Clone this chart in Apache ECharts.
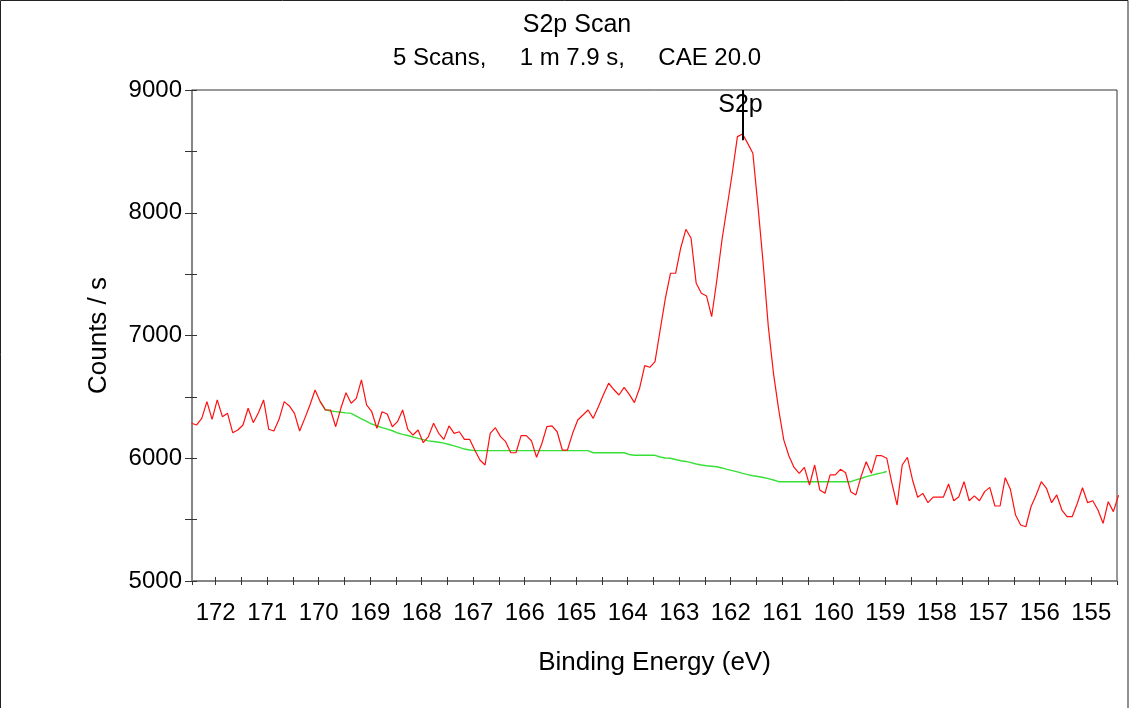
<!DOCTYPE html>
<html>
<head>
<meta charset="utf-8">
<title>S2p Scan</title>
<script src="https://cdn.jsdelivr.net/npm/echarts@6/dist/echarts.min.js"></script>
<style>
  html, body { margin: 0; padding: 0; background: #fff; }
  #chart { width: 1132px; height: 708px; }
</style>
</head>
<body>
<div id="chart"></div>
<script>
// S2p high-resolution region: measured counts on a 0.1 eV binding-energy grid
const energyStart = 172.47;
const energyStep = 0.1;

const counts = [
  6285, 6271, 6325, 6461, 6317, 6475, 6339, 6366, 6208, 6230,
  6271, 6407, 6290, 6371, 6475, 6236, 6222, 6317, 6461, 6426,
  6366, 6222, 6325, 6434, 6556, 6461, 6393, 6393, 6257, 6407,
  6534, 6448, 6488, 6638, 6434, 6379, 6244, 6379, 6361, 6257,
  6298, 6393, 6236, 6189, 6230, 6127, 6176, 6285, 6203, 6154,
  6263, 6203, 6216, 6154, 6154, 6067, 5986, 5945, 6203, 6249,
  6176, 6135, 6045, 6045, 6184, 6184, 6143, 6008, 6116, 6257,
  6263, 6216, 6067, 6067, 6203, 6312, 6352, 6393, 6325, 6420,
  6520, 6611, 6560, 6515, 6578, 6520, 6453, 6570, 6754, 6741,
  6787, 7045, 7300, 7507, 7507, 7715, 7865, 7792, 7425, 7344,
  7322, 7153, 7450, 7778, 8049, 8322, 8620, 8642, 8565, 8484,
  8050, 7588, 7072, 6692, 6400, 6150, 6018, 5925, 5877, 5926,
  5782, 5945, 5741, 5714, 5864, 5864, 5910, 5882, 5728, 5701,
  5850, 5972, 5877, 6021, 6021, 6000, 5796, 5619, 5945, 6008,
  5823, 5682, 5714, 5638, 5684, 5684, 5684, 5790, 5654, 5687,
  5809, 5654, 5693, 5654, 5728, 5763, 5611, 5611, 5842, 5747,
  5538, 5456, 5442, 5605, 5701, 5809, 5755, 5638, 5701, 5578,
  5524, 5524, 5633, 5760, 5638, 5654, 5578, 5470, 5646, 5565,
  5700
];

// Background under the peak region, starting at grid point bgStartIndex
const bgStartIndex = 25;
const bgCounts = [
  6461, 6395, 6385, 6380, 6375, 6370, 6366, 6344, 6320, 6300,
  6279, 6263, 6250, 6237, 6224, 6206, 6195, 6185, 6173, 6162,
  6152, 6142, 6136, 6130, 6123, 6112, 6101, 6088, 6075, 6067,
  6062, 6062, 6062, 6062, 6062, 6062, 6062, 6062, 6062, 6062,
  6062, 6062, 6062, 6062, 6062, 6062, 6062, 6062, 6062, 6062,
  6062, 6062, 6062, 6045, 6045, 6045, 6045, 6045, 6045, 6045,
  6030, 6024, 6024, 6024, 6024, 6024, 6010, 6002, 6000, 5990,
  5980, 5974, 5964, 5953, 5945, 5939, 5935, 5931, 5921, 5909,
  5899, 5889, 5877, 5867, 5857, 5851, 5843, 5834, 5823, 5809,
  5809, 5809, 5809, 5809, 5809, 5809, 5809, 5809, 5809, 5809,
  5809, 5809, 5809, 5809, 5824, 5835, 5850, 5861, 5872, 5881,
  5892
];

// Peak marker
const peakName = 'S2p';
const peakEnergy = 161.77;
const peakLineTop = 9000;
const peakLineBottom = 8590;
const peakLabelEnergy = 161.81;
const peakLabelCounts = 8878;

// Axis settings
const xMin = 154.5, xMax = 172.46, xTickStep = 0.5;
const yMin = 5000, yMax = 9000, yTickStep = 500, yLabelStep = 1000;

const energy = counts.map((_, i) => +(energyStart - i * energyStep).toFixed(2));
const spectrum = counts.map((c, i) => [energy[i], c]);
const background = bgCounts.map((c, k) => [energy[bgStartIndex + k], c]);

const FONT = "'Liberation Sans', Arial, sans-serif";

const chart = echarts.init(document.getElementById('chart'), null, { renderer: 'canvas' });

chart.setOption({
  animation: false,
  backgroundColor: '#ffffff',
  textStyle: { fontFamily: FONT },
  title: {
    text: 'S2p Scan',
    subtext: '5 Scans,     1 m 7.9 s,     CAE 20.0',
    left: 572,
    textAlign: 'center',
    top: 8,
    itemGap: 8,
    textStyle: { fontFamily: FONT, fontSize: 25, fontWeight: 'normal', color: '#000' },
    subtextStyle: { fontFamily: FONT, fontSize: 24, color: '#000' }
  },
  graphic: [{
    type: 'rect',
    shape: { x: 0.5, y: 0.5, width: 1127.5, height: 730 },
    style: { fill: 'none', stroke: '#222', lineWidth: 1 },
    silent: true,
    z: -1
  }],
  grid: {
    left: 192, right: 15, top: 90, bottom: 127,
    show: true, borderColor: '#333', borderWidth: 1
  },
  xAxis: [{
    type: 'value',
    inverse: true,
    min: xMin, max: xMax, interval: xTickStep,
    name: 'Binding Energy (eV)',
    nameLocation: 'middle',
    nameGap: 69,
    nameTextStyle: { fontFamily: FONT, fontSize: 26, color: '#000' },
    axisLine: { show: true, onZero: false, lineStyle: { color: '#808080', width: 1.5 } },
    axisTick: { show: true, inside: true, length: 4, lineStyle: { color: '#333' } },
    axisLabel: {
      fontFamily: FONT, fontSize: 24, color: '#000', margin: 20,
      showMinLabel: false, showMaxLabel: false,
      formatter: v => (Math.abs(v - Math.round(v)) < 1e-6 ? String(Math.round(v)) : '')
    },
    splitLine: { show: false }
  }, {
    type: 'value',
    inverse: true,
    min: xMin, max: xMax, interval: xTickStep,
    position: 'bottom',
    axisLine: { show: false, onZero: false },
    axisTick: { show: true, inside: false, length: 4, lineStyle: { color: '#333' } },
    axisLabel: { show: false },
    splitLine: { show: false }
  }],
  yAxis: [{
    type: 'value',
    min: yMin, max: yMax, interval: yTickStep,
    name: 'Counts / s',
    nameLocation: 'middle',
    nameRotate: 90,
    nameGap: 80,
    nameTextStyle: { fontFamily: FONT, fontSize: 26, color: '#000' },
    axisLine: { show: true, onZero: false, lineStyle: { color: '#808080', width: 1.5 } },
    axisTick: { show: true, inside: false, length: 7, lineStyle: { color: '#333' } },
    axisLabel: {
      fontFamily: FONT, fontSize: 24, color: '#000', margin: 10,
      formatter: v => (v % yLabelStep === 0 ? String(v) : '')
    },
    splitLine: { show: false }
  }, {
    type: 'value',
    min: yMin, max: yMax, interval: yTickStep,
    position: 'left',
    axisLine: { show: false, onZero: false },
    axisTick: { show: true, inside: true, length: 5, lineStyle: { color: '#333' } },
    axisLabel: { show: false },
    splitLine: { show: false }
  }],
  series: [{
    name: 'Background',
    type: 'line',
    data: background,
    showSymbol: false,
    symbol: 'none',
    lineStyle: { color: '#36e036', width: 1.4 },
    z: 2
  }, {
    name: 'S2p',
    type: 'line',
    data: spectrum,
    showSymbol: false,
    symbol: 'none',
    clip: true,
    lineStyle: { color: '#ff1010', width: 1.2 },
    z: 3,
    markLine: {
      silent: true,
      symbol: ['none', 'none'],
      label: { show: false },
      lineStyle: { color: '#000', width: 2, type: 'solid' },
      data: [[{ coord: [peakEnergy, peakLineTop] }, { coord: [peakEnergy, peakLineBottom] }]]
    },
    markPoint: {
      silent: true,
      symbol: 'rect',
      symbolSize: 1,
      itemStyle: { color: 'rgba(0,0,0,0)' },
      label: {
        show: true, position: 'inside', formatter: peakName,
        fontFamily: FONT, fontSize: 25, color: '#000'
      },
      data: [{ coord: [peakLabelEnergy, peakLabelCounts] }]
    }
  }]
});
</script>
</body>
</html>
